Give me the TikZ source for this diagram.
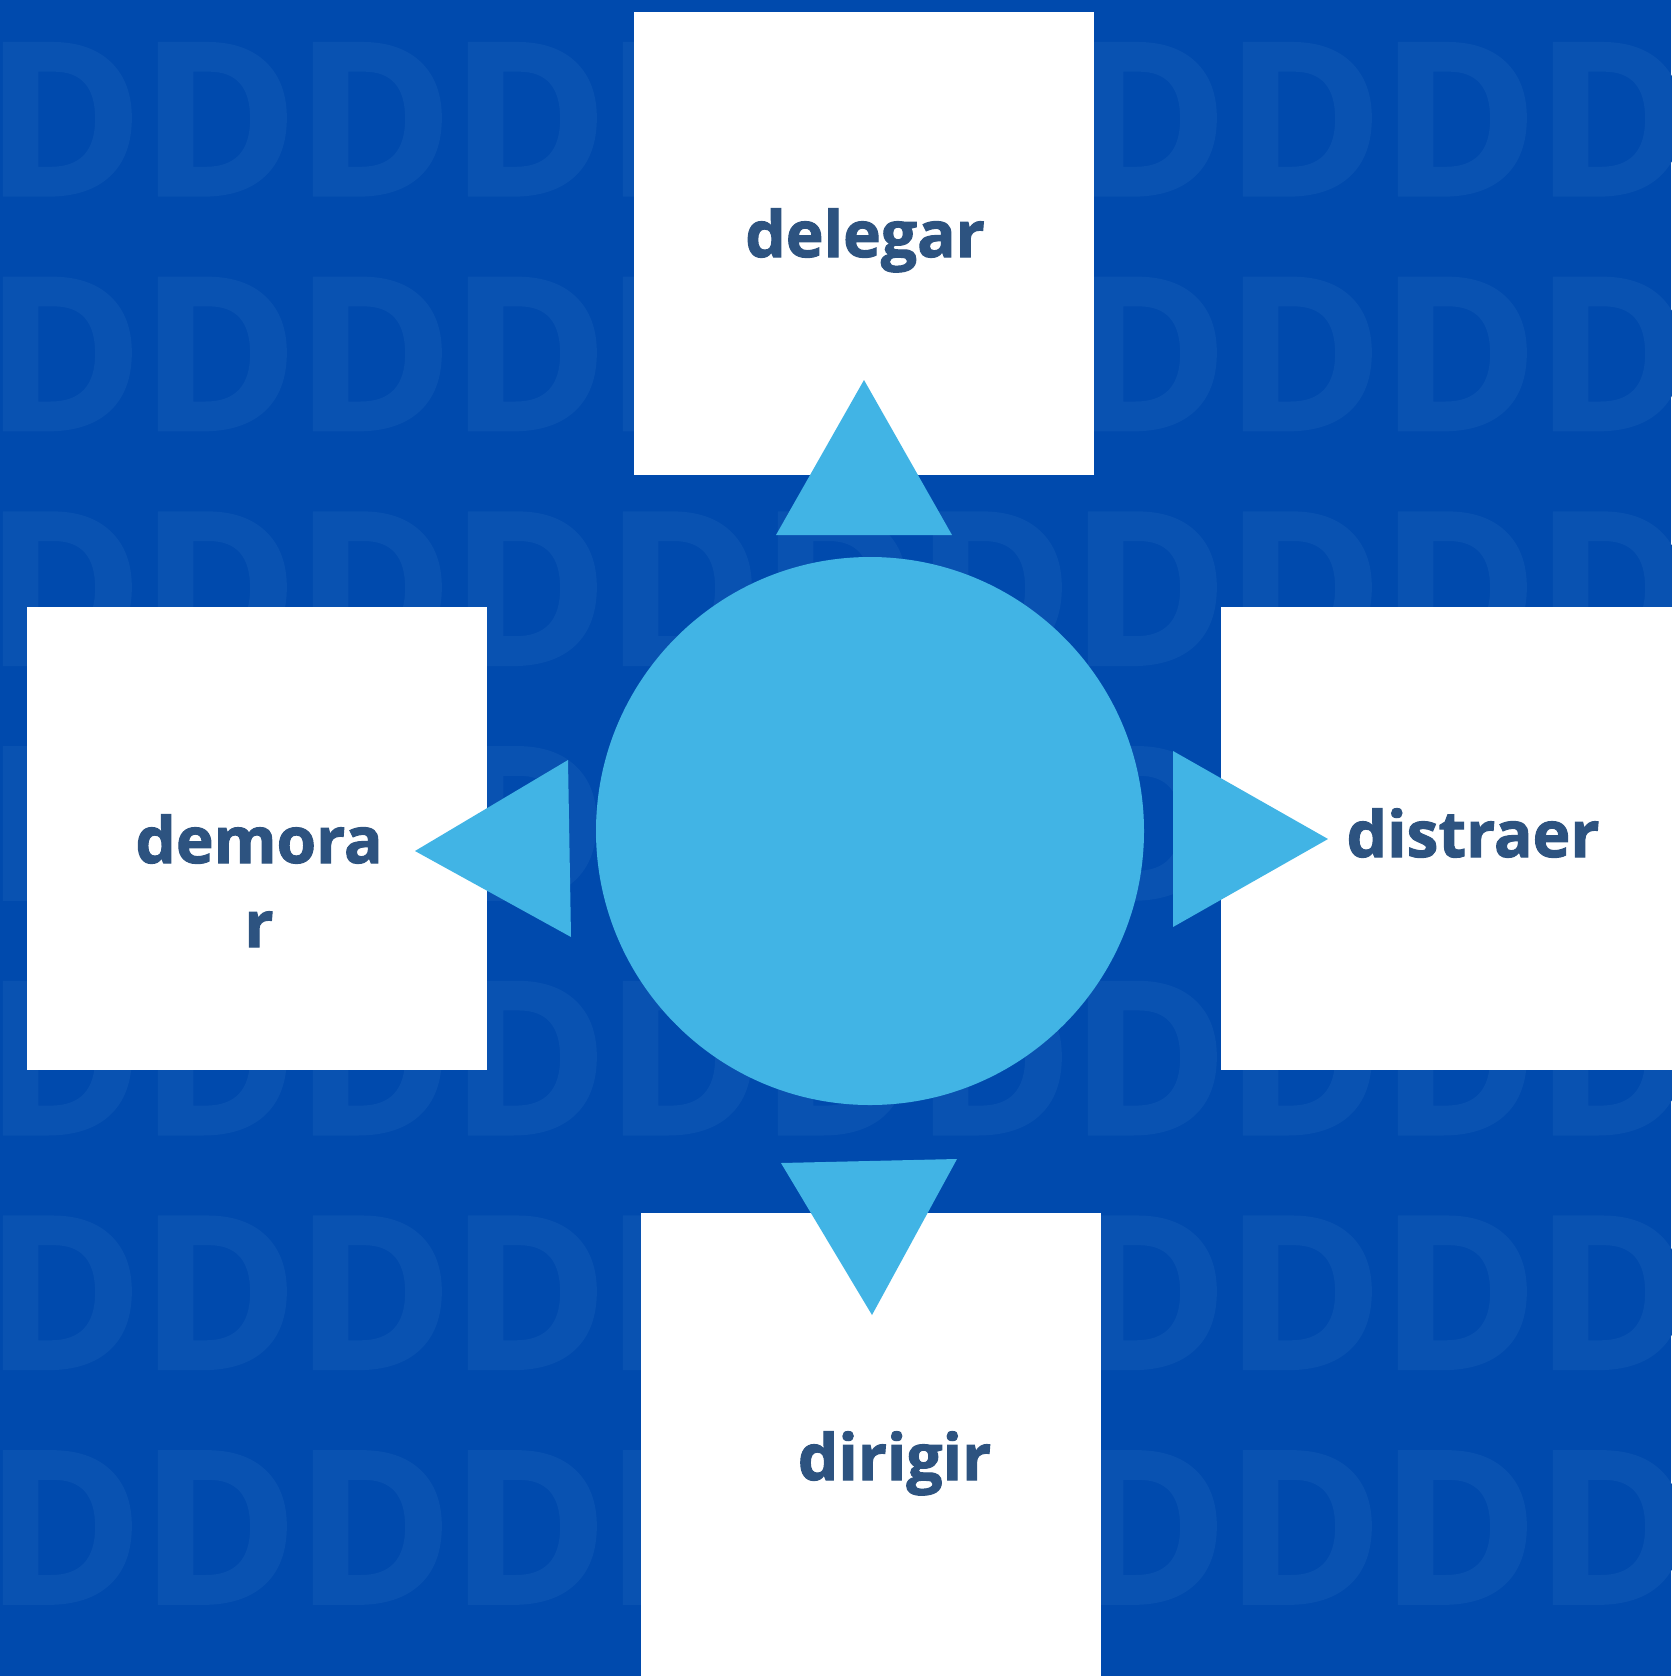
\documentclass[tikz,border=0pt]{standalone}
\usepackage{fontspec}
\setmainfont{Open Sans}[BoldFeatures={FakeBold=1.6}]
\definecolor{bgblue}{RGB}{0,74,173}
\definecolor{wmblue}{RGB}{9,82,177}
\definecolor{skyblue}{RGB}{65,180,229}
\definecolor{inkblue}{RGB}{45,83,128}
\begin{document}
\begin{tikzpicture}[x=0.5pt, y=-0.5pt,
	whitebox/.style={fill=white, inner sep=0, minimum width=230pt, minimum height=231.5pt},
	word/.style={anchor=base, inner sep=0, text=inkblue, font=\bfseries\fontsize{32}{42}\selectfont, align=center},
	wmark/.style={anchor=base, inner sep=0, text=wmblue, font=\bfseries\fontsize{106}{106}\selectfont},
	pointer/.style={fill=skyblue}]
	%background
	\useasboundingbox (0,0) rectangle (1671,1676);
	\fill[bgblue] (0,0) rectangle (1671,1676);
	
	%watermark
	\foreach \col in {0,...,10}
		\foreach \row in {0,...,6}
			\node[wmark] (wm-\col-\row) at (64+155*\col, 195+234.7*\row) {D};
	
	%boxes
	\node[whitebox] (top box) at (864,243.5) {};
	\node[whitebox] (left box) at (256.5,838.5) {};
	\node[whitebox] (right box) at (1451,838.5) {};
	\node[whitebox] (bottom box) at (871,1444.5) {};
	
	%hub
	\node[circle, fill=skyblue, minimum size=274pt, inner sep=0] (hub) at (870,831) {};
	
	%pointers
	\fill[pointer] (864,380) -- (776,535) -- (952,535) -- cycle;
	\fill[pointer] (415,851) -- (568,760) -- (571,937) -- cycle;
	\fill[pointer] (1328,839) -- (1173,751) -- (1173,927) -- cycle;
	\fill[pointer] (872,1315) -- (781,1163) -- (957,1159) -- cycle;
	
	%labels
	\node[word] (delegar) at (865,257) {delegar};
	\node[word] (demorar) at (259,947) {demora\\r};
	\node[word] (distraer) at (1473,857) {distraer};
	\node[word] (dirigir) at (894.5,1480) {dirigir};
\end{tikzpicture}
\end{document}
